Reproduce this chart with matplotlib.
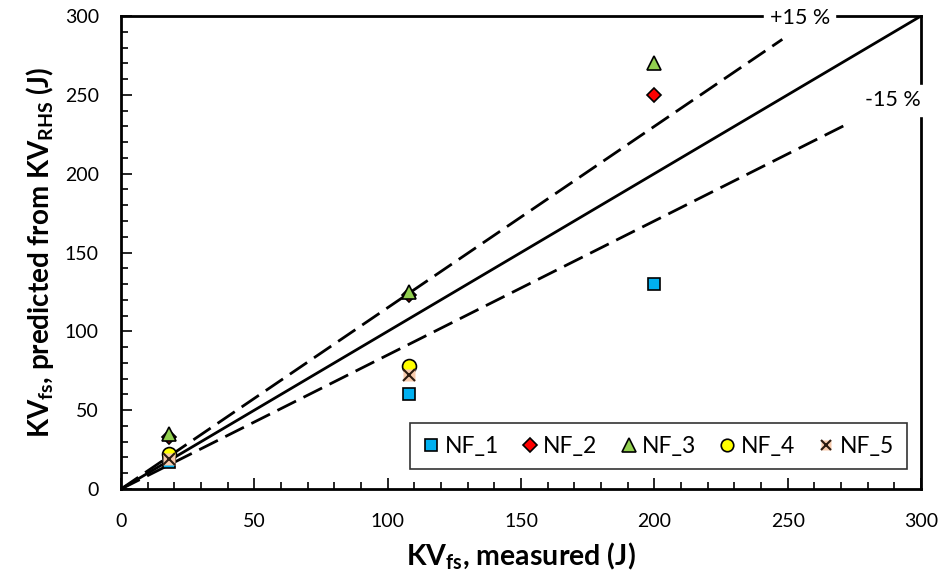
import matplotlib
matplotlib.use("Agg")
import matplotlib.pyplot as plt
from matplotlib.ticker import MultipleLocator

plt.rcParams['font.family'] = ['Lato', 'DejaVu Sans']
plt.rcParams['mathtext.fontset'] = 'custom'
plt.rcParams['mathtext.rm'] = 'Lato'
plt.rcParams['mathtext.bf'] = 'Lato:bold'
plt.rcParams['mathtext.default'] = 'bf'

# data
nf1_x = [18, 108, 200]
nf1_y = [17, 60, 130]
nf2_x = [18, 108, 200]
nf2_y = [33, 123, 250]
nf3_x = [18, 108, 200]
nf3_y = [35, 125, 270]
nf4_x = [18, 108]
nf4_y = [22, 78]
nf5_x = [18, 108]
nf5_y = [19, 72]

upper_end = 248   # +15 % line drawn to this x
lower_end = 273   # -15 % line drawn to this x

fig = plt.figure(figsize=(9.42, 5.8), dpi=100)
ax = fig.add_axes([0.1285, 0.1569, 0.8492, 0.8155])

# 1:1 and +/-15 % lines
ax.plot([0, 300], [0, 300], color='black', lw=2, zorder=2)
ax.plot([0, upper_end], [0, 1.15 * upper_end], color='black', lw=2,
        dashes=(7.5, 3), zorder=2)
ax.plot([0, lower_end], [0, 0.85 * lower_end], color='black', lw=2,
        dashes=(7.5, 3), zorder=2)

ms = 9
h1, = ax.plot(nf1_x, nf1_y, 's', ms=ms, mfc='#00B0F0', mec='black', mew=1.2,
              ls='none', zorder=3)
h2, = ax.plot(nf2_x, nf2_y, 'D', ms=ms - 1.5, mfc='#FF0000', mec='black', mew=1.2,
              ls='none', zorder=3)
h3, = ax.plot(nf3_x, nf3_y, '^', ms=ms + 1.5, mfc='#92D050', mec='black', mew=1.2,
              ls='none', zorder=3)
h4, = ax.plot(nf4_x, nf4_y, 'o', ms=ms + 1, mfc='#FFFF00', mec='black', mew=1.2,
              ls='none', zorder=3)
h5a, = ax.plot(nf5_x, nf5_y, 's', ms=ms - 1, mfc='#F8CBAD', mec='none',
               ls='none', zorder=3)
h5b, = ax.plot(nf5_x, nf5_y, 'x', ms=ms - 1, mec='#2b1a10', mew=1.5,
               ls='none', zorder=3)

leg = ax.legend([h1, h2, h3, h4, (h5a, h5b)],
                ['NF_1', 'NF_2', 'NF_3', 'NF_4', 'NF_5'],
                ncol=5, loc='lower right', bbox_to_anchor=(0.9825, 0.042),
                borderaxespad=0, fontsize=16.5, frameon=True, fancybox=False,
                edgecolor='black', handlelength=0.7, handletextpad=0.25,
                columnspacing=1.0, borderpad=0.55, markerscale=0.9)
leg.get_frame().set_linewidth(1.2)

# labels on the bands, white box over the frame
ax.text(254.5, 298.5, '+15 %', fontsize=15.5, ha='center', va='center',
        backgroundcolor='white', zorder=5, clip_on=False)
ax.text(289.5, 246.5, '-15 %', fontsize=15.5, ha='center', va='center',
        backgroundcolor='white', zorder=5, clip_on=False)

ax.set_xlim(0, 300)
ax.set_ylim(0, 300)
ax.xaxis.set_major_locator(MultipleLocator(50))
ax.yaxis.set_major_locator(MultipleLocator(50))
ax.xaxis.set_minor_locator(MultipleLocator(10))
ax.yaxis.set_minor_locator(MultipleLocator(10))
ax.tick_params(which='major', direction='in', length=8, width=1.2,
               labelsize=14, pad=17)
ax.tick_params(which='minor', direction='in', length=5, width=1.2)
ax.tick_params(axis='y', pad=16)
for s in ax.spines.values():
    s.set_linewidth(2)
    s.set_zorder(4)

ax.set_xlabel(r'KV$_{fs}$, measured (J)', fontsize=20.5, fontweight='bold',
              labelpad=8)
ax.set_ylabel(r'KV$_{fs}$, predicted from KV$_{RHS}$ (J)', fontsize=20,
              fontweight='bold', labelpad=6)

fig.savefig('out.png', dpi=100)
